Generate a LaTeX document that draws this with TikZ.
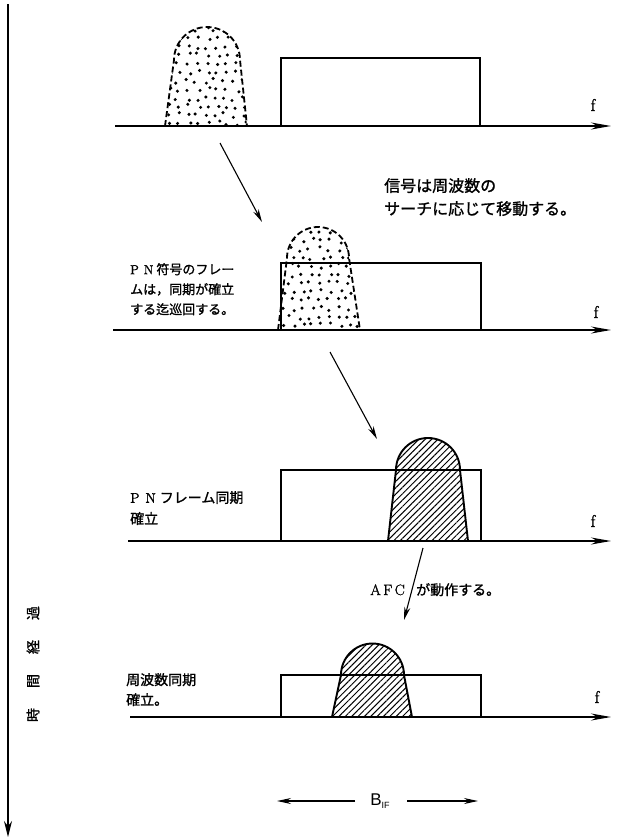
\documentclass[tikz,border=0pt]{standalone}
\usepackage{fontspec}
\newfontfamily\jp[FakeBold=1.2]{Noto Sans CJK JP}
\newfontfamily\hv{Liberation Sans}
\newfontfamily\sr[FakeBold=1.5]{Latin Modern Roman}
\usetikzlibrary{arrows.meta,patterns.meta}
\tikzset{
  axisline/.style={line width=1.4pt,-{Stealth[length=20pt,width=7pt]}},
  band/.style={line width=1.2pt},
  bumpdash/.style={line width=1.8pt,dash pattern=on 6pt off 3pt},
  bumphatch/.style={line width=1.9pt,pattern={Lines[angle=45,distance=4.5pt,line width=1pt]}},
  movearrow/.style={line width=1.1pt,-{Stealth[length=13pt,width=6pt]}},
  jplabel/.style={inner sep=0pt,anchor=north west,align=left},
  flabel/.style={inner sep=0pt,font=\sr\fontsize{17}{17}\selectfont},
  stip/.style={fill=black}
}
\def\bumpA{(165,126) -- (174,60) arc[start angle=180,end angle=360,radius=33] -- (247,126)}
\def\bumpB{(278,330) -- (287,258) arc[start angle=180,end angle=360,radius=31] -- (360,330)}
\def\bumpC{(388,541) -- (396,470) arc[start angle=180,end angle=360,radius=32] -- (468,541)}
\def\bumpD{(332,717) -- (341,675) arc[start angle=180,end angle=360,radius=31.5] -- (412,717)}
\begin{document}
\begin{tikzpicture}[x=1pt,y=-1pt]
\useasboundingbox (0,0) rectangle (617,839);
\fill[white] (0,0) rectangle (617,839);

% time axis
\coordinate (ts) at (8,4);
\coordinate (te) at (8,837);
\draw[line width=1.3pt,-{Stealth[length=16pt,width=8pt]}] (ts) -- (te);
\node[rotate=90,inner sep=0pt,font=\jp\fontsize{14}{14}\selectfont] (tlabel) at (33,664)
  {時\hspace{20pt}間\hspace{20pt}経\hspace{20pt}過};

% ---------- panel 1
\pgfmathsetseed{11}
\begin{scope}
  \clip \bumpA;
  \foreach \gx in {0,...,9}{\foreach \gy in {0,...,11}{
    \fill[stip] ({168+9.5*\gx+(\gy/2-floor(\gy/2))*4.75+5*(rnd-0.5)},{30+8.5*\gy+5*(rnd-0.5)}) circle (1.7);}}
\end{scope}
\draw[bumpdash] \bumpA;
\draw[band] (281,126) rectangle (480,58);
\coordinate (p1s) at (115,126);
\coordinate (p1e) at (611,126);
\draw[axisline] (p1s) -- (p1e);
\node[flabel] (f1) at (593,105) {f};

% move arrow 1
\coordinate (m1s) at (220,143);
\coordinate (m1e) at (262,222);
\draw[movearrow] (m1s) -- (m1e);
\node[jplabel,font=\jp\fontsize{16}{23}\selectfont] (t1) at (384,178)
  {信号は周波数の\\サーチに応じて移動する。};

% ---------- panel 2
\begin{scope}
  \clip \bumpB;
  \foreach \gx in {0,...,9}{\foreach \gy in {0,...,12}{
    \fill[stip] ({281+9.5*\gx+(\gy/2-floor(\gy/2))*4.75+5*(rnd-0.5)},{232+8.5*\gy+5*(rnd-0.5)}) circle (1.7);}}
\end{scope}
\draw[bumpdash] \bumpB;
\draw[band] (281,330) rectangle (481,263);
\coordinate (p2s) at (113,330);
\coordinate (p2e) at (611,330);
\draw[axisline] (p2s) -- (p2e);
\node[flabel] (f2) at (596,312) {f};
\node[jplabel,font=\jp\fontsize{13}{20}\selectfont] (t2) at (130,263)
  {{\sr P\hspace{5pt}N}\hspace{3pt}符号のフレー\\ムは，同期が確立\\する迄巡回する。};

% move arrow 2
\coordinate (m2s) at (330,352);
\coordinate (m2e) at (377,439);
\draw[movearrow] (m2s) -- (m2e);

% ---------- panel 3
\draw[bumphatch] \bumpC;
\draw[band] (281,541) rectangle (481,470);
\coordinate (p3s) at (128,541);
\coordinate (p3e) at (611,541);
\draw[axisline] (p3s) -- (p3e);
\node[flabel] (f3) at (593,521) {f};
\node[jplabel,font=\jp\fontsize{14}{21}\selectfont] (t3) at (130,491)
  {{\sr P\hspace{6pt}N}\hspace{4pt}フレーム同期\\確立};

% AFC arrow
\coordinate (m3s) at (423,548);
\coordinate (m3e) at (404,620);
\draw[movearrow] (m3s) -- (m3e);
\node[inner sep=0pt,anchor=base east,font=\sr\fontsize{15}{15}\selectfont] (afc) at (405,595) {A\,F\,C};
\node[inner sep=0pt,anchor=base west,font=\jp\fontsize{14}{14}\selectfont] (afct) at (416,595) {が動作する。};

% ---------- panel 4
\draw[bumphatch] \bumpD;
\draw[band] (281,717) rectangle (481,675);
\coordinate (p4s) at (130,717);
\coordinate (p4e) at (611,717);
\draw[axisline] (p4s) -- (p4e);
\node[flabel] (f4) at (597,697) {f};
\node[jplabel,font=\jp\fontsize{14}{20}\selectfont] (t4) at (126,673)
  {周波数同期\\確立。};

% bandwidth
\node[inner sep=0pt,font=\hv\fontsize{17}{17}\selectfont] (bif) at (380,801) {B\raisebox{-3pt}{\fontsize{9}{9}\selectfont IF}};
\coordinate (bl0) at (355,801);
\coordinate (bl) at (277,801);
\coordinate (br0) at (407,801);
\coordinate (br) at (478,801);
\draw[line width=1.1pt,-{Stealth[length=14pt,width=6pt]}] (bl0) -- (bl);
\draw[line width=1.1pt,-{Stealth[length=14pt,width=6pt]}] (br0) -- (br);
\end{tikzpicture}
\end{document}
